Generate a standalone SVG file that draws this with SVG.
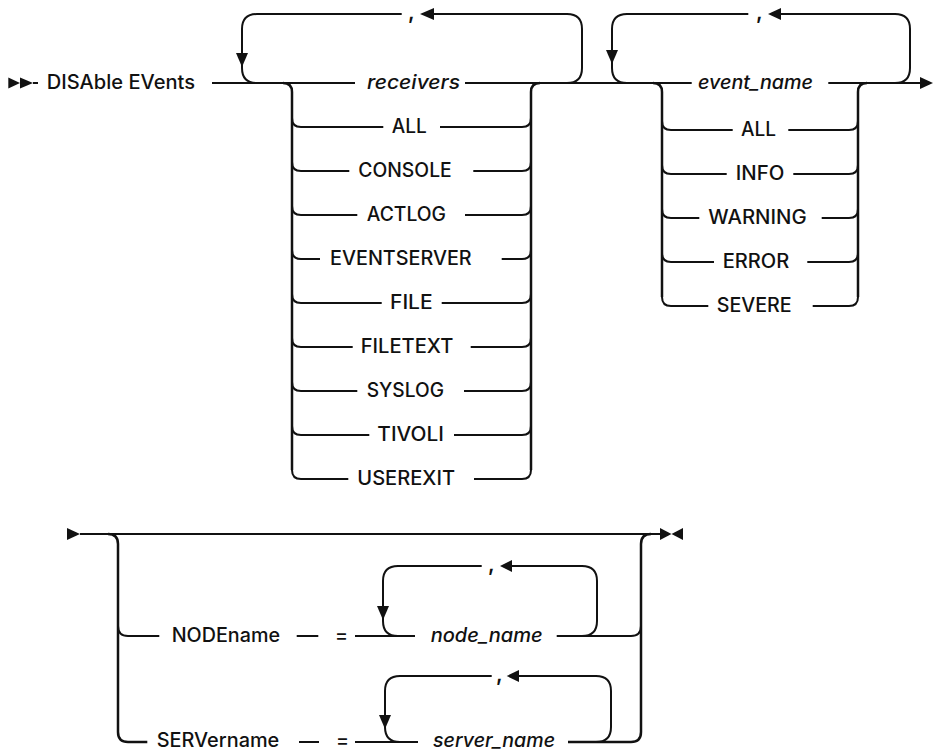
<svg xmlns="http://www.w3.org/2000/svg" width="934" height="752" viewBox="0 0 934 752">
<style>
.t{font-family:Inter,"Open Sans","Liberation Sans",Arial,sans-serif;font-size:19.5px;font-weight:500;fill:#111}
.i{font-style:italic}
.k{font-size:21px;font-weight:600}
.c path{fill:none;stroke:#111;stroke-width:2}
.c path.v{stroke-width:2.5}
.a{fill:#111;stroke:none}
</style>
<rect x="0" y="0" width="934" height="752" fill="#fff"/>
<g id="connectors" class="c">
<path d="M33,83 H38"/>
<path d="M212,83 H355"/>
<path d="M465,83 H691.7"/>
<path d="M828.3,83 H922"/>
<path d="M401.7,14 H257 Q242,14 242,29 V68 Q242,83 257,83"/>
<path d="M567,83 Q582,83 582,68 V29 Q582,14 567,14 H434"/>
<path class="v" d="M283,83 Q292,83 292,92 V470"/>
<path class="v" d="M531,470 V92 Q531,83 540,83"/>
<path d="M292,118 Q292,127 301,127 H383.3 M440,127 H522 Q531,127 531,118"/>
<path d="M292,162 Q292,171 301,171 H349.3 M473.3,171 H522 Q531,171 531,162"/>
<path d="M292,206 Q292,215 301,215 H357.3 M465,215 H522 Q531,215 531,206"/>
<path d="M292,250 Q292,259 301,259 H320 M501.7,259 H522 Q531,259 531,250"/>
<path d="M292,294 Q292,303 301,303 H381.7 M441.7,303 H522 Q531,303 531,294"/>
<path d="M292,338 Q292,347 301,347 H352.7 M470.7,347 H522 Q531,347 531,338"/>
<path d="M292,382 Q292,391 301,391 H357.3 M464,391 H522 Q531,391 531,382"/>
<path d="M292,426 Q292,435 301,435 H369.3 M454,435 H522 Q531,435 531,426"/>
<path d="M292,470 Q292,479 301,479 H348.3 M474,479 H522 Q531,479 531,470"/>
<path d="M748.3,14 H627 Q612,14 612,29 V68 Q612,83 627,83"/>
<path d="M895,83 Q910,83 910,68 V29 Q910,14 895,14 H781"/>
<path class="v" d="M653,83 Q662,83 662,92 V297"/>
<path class="v" d="M858,297 V92 Q858,83 867,83"/>
<path d="M662,121 Q662,130 671,130 H732.7 M788.3,130 H849 Q858,130 858,121"/>
<path d="M662,165 Q662,174 671,174 H726.7 M793.3,174 H849 Q858,174 858,165"/>
<path d="M662,209 Q662,218 671,218 H699.3 M821.7,218 H849 Q858,218 858,209"/>
<path d="M662,253 Q662,262 671,262 H714 M807.3,262 H849 Q858,262 858,253"/>
<path d="M662,297 Q662,306 671,306 H708.3 M812.7,306 H849 Q858,306 858,297"/>
<path d="M80,534 H660"/>
<path class="v" d="M108,534 Q118,534 118,544 V732 Q118,742 128,742 H147.3"/>
<path d="M118,626 Q118,636 128,636 H159.3"/>
<path class="v" d="M651,534 Q641,534 641,544 V732 Q641,742 631,742 H568"/>
<path d="M556.7,636 H631 Q641,636 641,626"/>
<path d="M296.7,636 H318.3"/>
<path d="M355,636 H415"/>
<path d="M481.7,566 H398 Q383,566 383,581 V621 Q383,636 398,636"/>
<path d="M582,636 Q597,636 597,621 V581 Q597,566 582,566 H512"/>
<path d="M299,742 H319"/>
<path d="M355,742 H418"/>
<path d="M491.7,676 H400 Q385,676 385,691 V727 Q385,742 400,742"/>
<path d="M596,742 Q611,742 611,727 V691 Q611,676 596,676 H519"/>
</g>
<g id="arrowheads">
<polygon class="a" points="8.3,77.5 20,83 8.3,88.5"/>
<polygon class="a" points="20,77.5 33,83 20,88.5"/>
<polygon class="a" points="236,53 248,53 242,67"/>
<polygon class="a" points="434,8 434,20 420,14"/>
<polygon class="a" points="606,50 618,50 612,64"/>
<polygon class="a" points="781,8 781,20 768,14"/>
<polygon class="a" points="920,77 920,89 933,83"/>
<polygon class="a" points="67,528 67,540 80,534"/>
<polygon class="a" points="660,528 660,540 671.5,534"/>
<polygon class="a" points="683,528 683,540 671.5,534"/>
<polygon class="a" points="377,606 389,606 383,620"/>
<polygon class="a" points="512,560 512,572 500,566"/>
<polygon class="a" points="379,715 391,715 385,729"/>
<polygon class="a" points="519,670 519,682 506.7,676"/>
</g>
<g id="n-disable"><text class="t" x="46.7" y="89" textLength="148.3" lengthAdjust="spacingAndGlyphs">DISAble EVents</text></g>
<g id="n-rcomma"><text class="t k" x="408" y="19">,</text></g>
<g id="n-receivers"><text class="t i" x="367" y="89" textLength="93" lengthAdjust="spacingAndGlyphs">receivers</text></g>
<g id="n-r-all"><text class="t" x="391.7" y="133" textLength="35" lengthAdjust="spacingAndGlyphs">ALL</text></g>
<g id="n-r-console"><text class="t" x="358.3" y="177" textLength="93.4" lengthAdjust="spacingAndGlyphs">CONSOLE</text></g>
<g id="n-r-actlog"><text class="t" x="366.7" y="221" textLength="79.3" lengthAdjust="spacingAndGlyphs">ACTLOG</text></g>
<g id="n-r-eventserver"><text class="t" x="330" y="265" textLength="141.7" lengthAdjust="spacingAndGlyphs">EVENTSERVER</text></g>
<g id="n-r-file"><text class="t" x="390" y="309" textLength="42.7" lengthAdjust="spacingAndGlyphs">FILE</text></g>
<g id="n-r-filetext"><text class="t" x="360.7" y="353" textLength="92.6" lengthAdjust="spacingAndGlyphs">FILETEXT</text></g>
<g id="n-r-syslog"><text class="t" x="366.7" y="397" textLength="77.3" lengthAdjust="spacingAndGlyphs">SYSLOG</text></g>
<g id="n-r-tivoli"><text class="t" x="377.3" y="441" textLength="66.7" lengthAdjust="spacingAndGlyphs">TIVOLI</text></g>
<g id="n-r-userexit"><text class="t" x="357.3" y="485" textLength="97.7" lengthAdjust="spacingAndGlyphs">USEREXIT</text></g>
<g id="n-ecomma"><text class="t k" x="756" y="19">,</text></g>
<g id="n-event-name"><text class="t i" x="698" y="89" textLength="115" lengthAdjust="spacingAndGlyphs">event_name</text></g>
<g id="n-e-all"><text class="t" x="741" y="136" textLength="35" lengthAdjust="spacingAndGlyphs">ALL</text></g>
<g id="n-e-info"><text class="t" x="735.7" y="180" textLength="48.6" lengthAdjust="spacingAndGlyphs">INFO</text></g>
<g id="n-e-warning"><text class="t" x="708.3" y="224" textLength="98.4" lengthAdjust="spacingAndGlyphs">WARNING</text></g>
<g id="n-e-error"><text class="t" x="722.7" y="268" textLength="66.6" lengthAdjust="spacingAndGlyphs">ERROR</text></g>
<g id="n-e-severe"><text class="t" x="716.7" y="312" textLength="75" lengthAdjust="spacingAndGlyphs">SEVERE</text></g>
<g id="n-nodename"><text class="t" x="171.7" y="642" textLength="108.3" lengthAdjust="spacingAndGlyphs">NODEname</text></g>
<g id="n-node-eq"><text class="t" x="335" y="642">=</text></g>
<g id="n-ncomma"><text class="t k" x="488" y="571">,</text></g>
<g id="n-node-name"><text class="t i" x="430.7" y="642" textLength="112" lengthAdjust="spacingAndGlyphs">node_name</text></g>
<g id="n-servername"><text class="t" x="156.7" y="747" textLength="122.6" lengthAdjust="spacingAndGlyphs">SERVername</text></g>
<g id="n-serv-eq"><text class="t" x="336" y="747">=</text></g>
<g id="n-scomma"><text class="t k" x="496" y="681">,</text></g>
<g id="n-server-name"><text class="t i" x="433" y="747" textLength="122" lengthAdjust="spacingAndGlyphs">server_name</text></g>
</svg>
